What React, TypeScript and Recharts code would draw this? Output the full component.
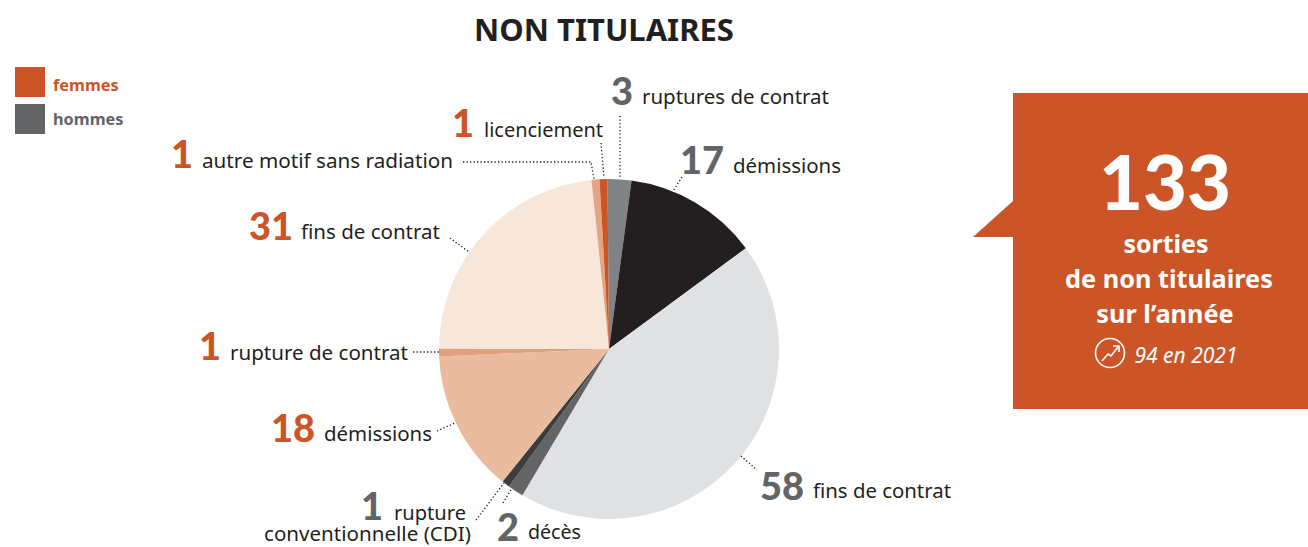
import { PieChart, Pie, Cell } from 'recharts'

const FONT = '"Noto Sans", sans-serif'
const NUM_FONT = 'Lato, sans-serif'
const ORANGE = '#cb5527'
const GREY = '#636466'
const INK = '#231f20'

// clockwise from 12 o'clock
const reasons = [
  'ruptures de contrat',
  'démissions',
  'fins de contrat',
  'décès',
  'rupture',
  'démissions',
  'rupture de contrat',
  'fins de contrat',
  'autre motif sans radiation',
  'licenciement',
]
const counts = [3, 17, 58, 2, 1, 18, 1, 31, 1, 1]
const sexes = ['h', 'h', 'h', 'h', 'h', 'f', 'f', 'f', 'f', 'f']
const sliceColors = ['#808285', '#231f20', '#e0e1e3', '#636466', '#3d3d3d', '#eabb9f', '#e0a07c', '#f7e6da', '#e4a583', '#cb5527']

const data = reasons.map((reason, i) => ({ reason, value: counts[i], sex: sexes[i] }))

// hand placed label anchors: number x and baseline, text x, baseline and width
const labelPos = [
  { nx: 611, tx: 642, y: 105, ty: 104, tw: 187 },
  { nx: 680, tx: 733, y: 174, ty: 173, tw: 108 },
  { nx: 760, tx: 813, y: 500, ty: 498, tw: 138 },
  { nx: 497, tx: 528, y: 541, ty: 539, tw: 53 },
  { nx: 361, tx: 394, y: 520, ty: 520, tw: 72 },
  { nx: 271, tx: 324, y: 442, ty: 441, tw: 108 },
  { nx: 199, tx: 230, y: 360, ty: 360, tw: 178 },
  { nx: 249, tx: 301, y: 240, ty: 239, tw: 139 },
  { nx: 171, tx: 202, y: 168, ty: 168, tw: 251 },
  { nx: 452, tx: 484, y: 137, ty: 137, tw: 119 },
]
const leaders = [
  '620,116 620,179',
  '682,177 673,191',
  '741,456 757,470',
  '503,503 512,488',
  '476,520 504,483',
  '437,431 455,423',
  '413,352 440,352',
  '450,238 469,252',
  '463,162 591,162 594,179',
  '601,143 604,178',
]

function renderLabel(props: { index: number }) {
  const i = props.index
  const d = data[i]
  const p = labelPos[i]
  return (
    <g key={i} fontFamily={FONT}>
      <polyline points={leaders[i]} fill="none" stroke={INK} strokeWidth={1.3} strokeDasharray="1.3 2.2" />
      <text x={p.nx} y={p.y} fontFamily={NUM_FONT} fontSize={38} fontWeight={900} fill={d.sex === 'f' ? ORANGE : GREY}>
        {d.value}
      </text>
      <text x={p.tx} y={p.ty} fontSize={20.5} fill={INK} textLength={p.tw} lengthAdjust="spacingAndGlyphs">
        {d.reason}
      </text>
      {i === 4 && (
        <text x={264} y={541} fontSize={20.5} fill={INK} textLength={207} lengthAdjust="spacingAndGlyphs">
          conventionnelle (CDI)
        </text>
      )}
    </g>
  )
}

export default function App() {
  return (
    <div style={{ position: 'absolute', left: 0, top: 0, width: 1308, height: 547, background: '#fff' }}>
      <PieChart width={1308} height={547} margin={{ top: 0, right: 0, bottom: 0, left: 0 }}>
        <text x={604} y={41} textAnchor="middle" fontFamily={FONT} fontSize={31} fontWeight={700} fill={INK}>
          NON TITULAIRES
        </text>

        <rect x={15} y={67} width={30} height={30} fill={ORANGE} />
        <rect x={15} y={104} width={30} height={30} fill={GREY} />
        <text x={53} y={91} fontFamily={FONT} fontSize={16.3} fontWeight={700} fill={ORANGE}>femmes</text>
        <text x={53} y={125} fontFamily={FONT} fontSize={16.3} fontWeight={700} fill={GREY}>hommes</text>

        <Pie
          data={data}
          dataKey="value"
          nameKey="reason"
          cx={609}
          cy={349}
          innerRadius={0}
          outerRadius={170}
          startAngle={90.5}
          endAngle={-269.5}
          stroke="none"
          label={renderLabel}
          labelLine={false}
          isAnimationActive={false}
        >
          {data.map((d, i) => (
            <Cell key={i} fill={sliceColors[i]} />
          ))}
        </Pie>

        <polygon points="1013,93 1308,93 1308,409 1013,409 1013,237 973,237 1013,201" fill={ORANGE} />
        <g fontFamily={FONT} fill="#fff" textAnchor="middle">
          <text x={1165} y={210} fontFamily={NUM_FONT} fontSize={76} fontWeight={900}>133</text>
          <text x={1166} y={253} fontSize={25} fontWeight={700}>sorties</text>
          <text x={1169} y={288} fontSize={25.3} fontWeight={700}>de non titulaires</text>
          <text x={1165} y={323} fontSize={25.3} fontWeight={700}>sur l’année</text>
          <text x={1186} y={363} fontSize={21} fontStyle="italic">94 en 2021</text>
        </g>
        <circle cx={1110} cy={353} r={14.5} fill="none" stroke="#fff" strokeWidth={1.6} />
        <polyline points="1102,361 1108,354 1111,356 1118,347" fill="none" stroke="#fff" strokeWidth={1.6} />
        <polyline points="1113,346 1119,346 1119,352" fill="none" stroke="#fff" strokeWidth={1.6} />
      </PieChart>
    </div>
  )
}
